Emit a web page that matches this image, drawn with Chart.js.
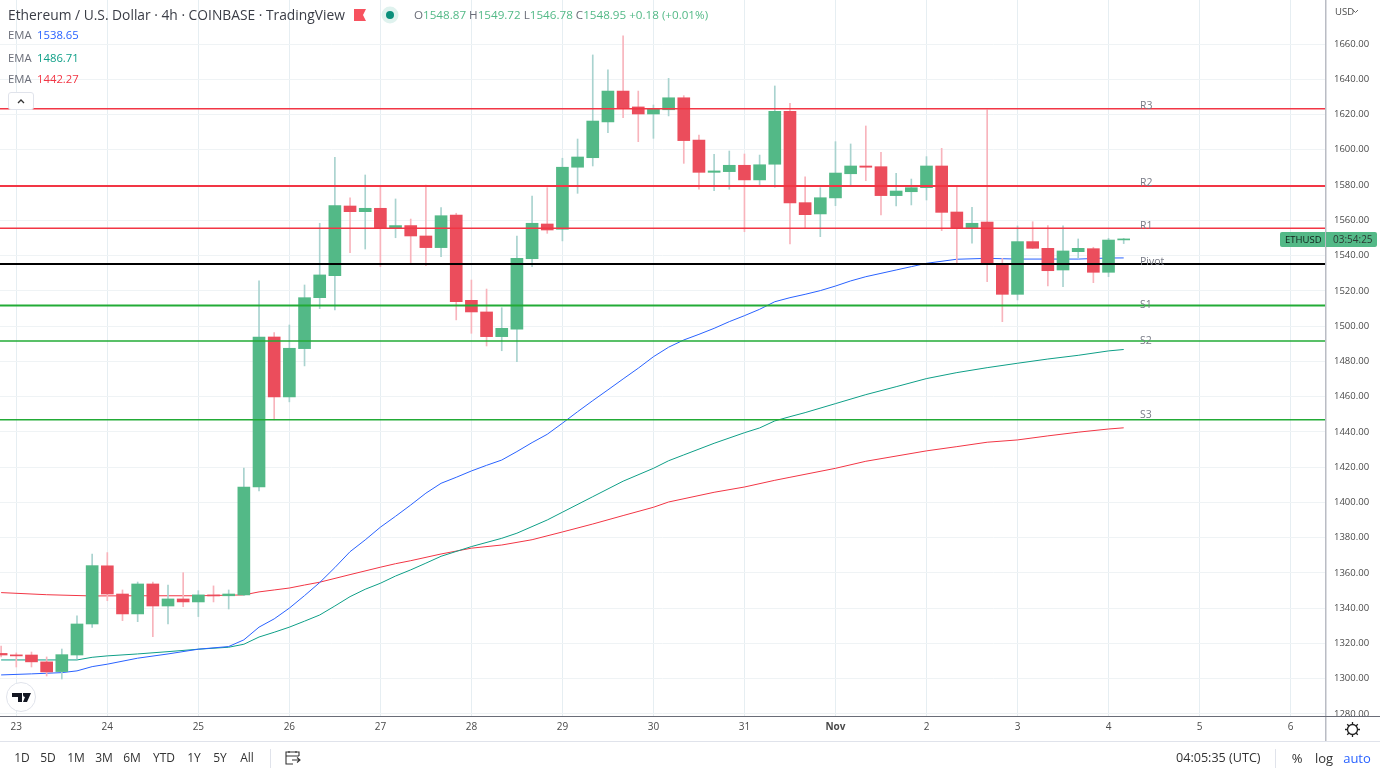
<!DOCTYPE html>
<html>
<head>
<meta charset="utf-8">
<title>ETHUSD 4h</title>
<script src="https://cdn.jsdelivr.net/npm/chart.js@4"></script>
<style>
    html, body { margin: 0; padding: 0; background: #fff; overflow: hidden; }
    body { width: 1380px; height: 776px; position: relative; font-family: "Open Sans", sans-serif; color: #333; }
    canvas { position: absolute; left: 0; top: 0; }
    .txt { position: absolute; white-space: nowrap; line-height: 16px; font-size: 11.3px; }
    .lab { color: #6a6d78; }
    .grn { color: #53b987; }
    .btm { top: 750px; color: #333; font-size: 12px; transform: translateX(-50%); }
    svg { position: absolute; }
    #bar { position: absolute; left: 0; top: 741px; width: 1380px; height: 35px; border-top: 1px solid #e0e3eb; box-sizing: border-box; }
</style>
</head>
<body>
<canvas id="chart" width="1380" height="741"></canvas>
<div id="bar"></div>

<div class="txt" style="left:8px;top:7px;font-size:13.8px;color:#3a3d46" id="title"></div>
<svg style="left:354px;top:9px" width="13" height="12"><path d="M0 0H12L9 6L12 12H0Z" fill="#f7525f"/></svg>
<svg style="left:381px;top:6px" width="18" height="18"><circle cx="9" cy="9" r="8.5" fill="#dff2ee"/><circle cx="9" cy="9" r="4" fill="#0a8f7b"/></svg>
<div class="txt" style="left:414px;top:7px;font-size:11.65px" id="ohlc"></div>

<div class="txt lab" style="left:8px;top:27px">EMA</div>
<div class="txt lab" style="left:8px;top:50px">EMA</div>
<div class="txt lab" style="left:8px;top:71px">EMA</div>
<div class="txt" style="left:37px;top:27px;color:#2962ff" id="ema1"></div>
<div class="txt" style="left:37px;top:50px;color:#0e9f87" id="ema2"></div>
<div class="txt" style="left:37px;top:71px;color:#f23645" id="ema3"></div>
<div style="position:absolute;left:8px;top:92px;width:26px;height:18px;box-sizing:border-box;border:1px solid #e0e3eb;border-radius:3px;background:#fff"></div>
<svg style="left:17px;top:98px" width="8" height="6"><path d="M1 5L4 2L7 5" stroke="#333" stroke-width="1.3" fill="none"/></svg>

<svg style="left:6px;top:682px" width="30" height="30"><circle cx="15" cy="15" r="14.5" fill="#fff" stroke="#e0e3eb"/><path d="M6 11H16V20H12V15H6ZM17 11H25L21 20H17L19 15A2 2 0 0 1 17 13Z" fill="#131722"/></svg>

<div class="txt" style="left:1335px;top:4px;font-size:9.5px;color:#4a4a4a">USD</div>
<svg style="left:1352px;top:9px" width="7" height="5"><path d="M1 1L3.5 3.5L6 1" stroke="#666" fill="none"/></svg>

<div style="position:absolute;left:1280px;top:232px;width:45px;height:15px;background:#53b987;border-radius:2px 0 0 2px"></div>
<div class="txt" style="left:1285px;top:232px;font-size:9.5px;line-height:15px;color:#10201a">ETHUSD</div>
<div style="position:absolute;left:1326px;top:232px;width:51px;height:15px;background:#53b987;border-radius:0 2px 2px 0"></div>
<div class="txt" style="left:1333px;top:232px;font-size:10px;line-height:15px;color:#2b3a34">03:54:25</div>
<svg style="left:1344px;top:721px" width="17" height="17"><circle cx="8.5" cy="8.5" r="5" fill="none" stroke="#222" stroke-width="1.3"/><path d="M8.5 1V3.5M8.5 13.5V16M1 8.5H3.5M13.5 8.5H16M3.2 3.2L5 5M12 12L13.8 13.8M13.8 3.2L12 5M5 12L3.2 13.8" stroke="#222" stroke-width="1.3"/></svg>

<div id="ranges"></div>
<div style="position:absolute;left:270px;top:749px;width:1px;height:19px;background:#e0e3eb"></div>
<svg style="left:284px;top:750px" width="17" height="16"><path d="M15 6V2H2V14H9M2 6H15M5 1V3M12 1V3M8 10H16M13 7.5L16 10L13 12.5" stroke="#333" stroke-width="1.1" fill="none"/></svg>
<div class="txt" style="left:1176px;top:750px;font-size:12.6px;color:#333">04:05:35 (UTC)</div>
<div style="position:absolute;left:1275px;top:749px;width:1px;height:19px;background:#e0e3eb"></div>
<div class="txt btm" style="left:1297px;font-size:13px">%</div>
<div class="txt btm" style="left:1324px;font-size:13px">log</div>
<div class="txt btm" style="left:1357px;font-size:13px;color:#2962ff">auto</div>

<script>
document.addEventListener('DOMContentLoaded', () => {
    // First bar is the clipped one left of the 23rd
    const firstBar = -1;
    const opens = [1314.3,1313.4,1313.4,1309.5,1304,1313.4,1331,1364,1348,1336.7,1353.7,1341.2,1345.2,1343.5,1347.5,1347,1347.5,1408.7,1493.8,1459.8,1487.2,1516.1,1528.6,1568.1,1564.9,1566.8,1555.5,1557,1551.1,1544.5,1563,1514.6,1508,1494,1498.3,1538.2,1557.9,1554.9,1590.1,1595.5,1615.8,1633.3,1624.3,1620.3,1622.7,1629.5,1605.5,1587.2,1587.6,1591.2,1582.9,1591.8,1621.8,1570,1563.6,1572.7,1586.4,1590.8,1590.4,1574,1576.2,1578.5,1590.8,1564.7,1555.6,1559,1535.6,1518,1547.9,1544.1,1531.8,1542.2,1543.9,1530.5,1548.87];
    const highs = [1318.5,1314.6,1315.1,1312.3,1316.8,1335.6,1370.7,1371.5,1350.3,1354.8,1354.8,1353.1,1360.1,1349.9,1352.6,1350.3,1419.5,1525.6,1496.3,1500.6,1523.3,1558.3,1595.7,1572.8,1585.7,1579.1,1572.1,1560.7,1580,1567.2,1564,1526.1,1521,1510.4,1551.1,1573.8,1578.5,1595.2,1606.1,1653.8,1645.3,1664.7,1633.3,1625.4,1640.5,1630.7,1608.4,1597.4,1599.3,1597.6,1597,1636.2,1626.4,1584.7,1578.5,1604.6,1603.3,1613.5,1598.6,1586.7,1583.4,1596.1,1600.8,1579.1,1567.4,1622.6,1538.4,1556.8,1559.2,1557,1556.8,1549.4,1544.7,1549.8,1549.72];
    const lows = [1312.3,1306.6,1306.6,1301.5,1299.8,1311.2,1329,1344.2,1332.9,1332.3,1323.8,1331,1340.8,1335.2,1343.5,1339.5,1347,1406.5,1446.8,1457,1477.4,1509.9,1509.1,1541.6,1543.7,1533.7,1550.1,1535.6,1534.3,1539.4,1503.5,1495.9,1488.7,1486,1479.8,1533.7,1552.6,1548.3,1575.3,1590.8,1609.7,1618.2,1604.6,1606.5,1619.2,1592.3,1577.6,1576.8,1577.6,1553.5,1579.9,1578.7,1546.6,1555.5,1550.7,1568.3,1580,1582.5,1563,1568.1,1568.7,1571.5,1554.1,1536,1547,1525.2,1502.5,1514.8,1544,1522.7,1522.3,1538.6,1524.6,1528,1546.78];
    const closes = [1313.4,1312.9,1309.5,1303.8,1313.6,1331,1364.1,1348,1336.7,1353.7,1341.2,1345.2,1343.5,1347.5,1346.9,1348,1408.7,1493.8,1459.8,1487.4,1516.1,1529,1568.3,1564.9,1566.8,1555.5,1557,1551.1,1544.5,1562.6,1513.8,1508,1494,1498.7,1538.4,1558.3,1554.5,1590.1,1595.9,1616.3,1633.3,1623.5,1620.3,1623.5,1629.5,1605.2,1587.2,1588,1591.2,1582.9,1591.5,1621.8,1569.8,1563.2,1572.8,1586.8,1590.8,1590.1,1574,1576.6,1578.5,1590.8,1564.5,1555.6,1558.3,1535.6,1518,1547.9,1544.1,1531.4,1542.6,1544.1,1530.5,1548.8,1548.95];

    const blueBars = [-1,1,3,4,5,6,8,10,12,14,15,16,17,18,19,20,21,22,23,24,25,26,27,28,29,30,31,32,33,34,35,36,37,38,39,40,41,42,43,44,45,46,47,48,49,50,51,52,53,54,55,56,57,58,59,60,62,64,66,68,70,72,73];
    const blueEma = [1302.1,1302.7,1303.4,1304.4,1306.8,1308.2,1311.6,1314,1316.7,1318.2,1322,1329.2,1333.9,1340,1347.1,1354.5,1363,1372,1378.7,1385.9,1392.1,1398.5,1405.2,1410.8,1414.2,1417.8,1421,1424,1428.8,1433.9,1438.6,1444.9,1451.4,1457.7,1463.8,1470,1476.1,1482.6,1488,1492.1,1495.3,1498.7,1502.5,1505.9,1509.5,1513.8,1516.1,1518,1520.1,1522.7,1525.6,1528,1529.9,1531.8,1533.7,1535.6,1537.9,1538.4,1538,1538,1538,1538.6,1538.65];
    const tealBars = [-1,3,4,5,6,8,10,12,14,15,16,17,18,19,20,21,22,23,24,25,26,27,28,30,32,33,35,36,38,40,42,43,44,46,48,49,50,51,52,54,56,58,60,62,64,66,68,70,72,73];
    const tealEma = [1310.6,1310.6,1310.6,1312.1,1312.9,1314,1315.3,1316.7,1317.8,1319.5,1323.6,1326.3,1329.2,1332.6,1336.1,1341.2,1346.5,1350.7,1354.1,1358.2,1361.7,1365.5,1369.4,1374.9,1379.6,1382.5,1390,1394.4,1403.2,1412,1419.3,1423.6,1426.9,1433.5,1439.5,1442.2,1446.2,1448.6,1450.9,1456,1461.1,1465.6,1470.2,1473.6,1476.4,1478.9,1481.3,1483.4,1485.9,1486.71];
    const redBars = [-1,2,5,8,12,15,16,17,18,19,20,22,24,25,26,28,30,32,34,36,38,40,42,43,46,48,50,51,54,56,60,62,64,66,68,70,72,73];
    const redEma = [1348.8,1347.6,1346.9,1347,1347,1347.5,1349.2,1350.3,1351.4,1353.1,1354.7,1359,1363.2,1365.2,1366.9,1370.7,1374,1375.8,1378.8,1383.2,1387.7,1392.5,1397.2,1400.2,1405.7,1408.7,1412.5,1414.2,1419.3,1423.3,1429.2,1431.6,1434.1,1435.4,1437.7,1439.8,1441.6,1442.27];

    const levelNames = ['R3', 'R2', 'R1', 'Pivot', 'S1', 'S2', 'S3'];
    const levelValues = [1623.3, 1579.5, 1555.5, 1535.2, 1511.6, 1491.5, 1446.8];
    const levelColors = ['#f23645', '#f23645', '#f23645', '#000000', '#22ab36', '#22ab36', '#22ab36'];
    const levelWidths = [1.5, 2, 1.5, 2, 2, 1.5, 1.5];
    const labelShifts = [0, 0, 1, 1, 2, 3, -2];

    const priceTicks = [1280,1300,1320,1340,1360,1380,1400,1420,1440,1460,1480,1500,1520,1540,1560,1580,1600,1620,1640,1660];
    const dayBars = [0,6,12,18,24,30,36,42,48,54,60,66,72,78,84];
    const dayLabels = ['23','24','25','26','27','28','29','30','31','Nov','2','3','4','5','6'];
    const rangeNames = ['1D','5D','1M','3M','6M','YTD','1Y','5Y','All'];
    const rangeCenters = [22,48,76,104,132,164,194,220,247];

    const upColor = '#53b987';
    const downColor = '#eb4d5c';
    const upWick = '#a9d3cf';
    const downWick = '#f8b4bc';

    const fontFamily = '"Open Sans", sans-serif';

    // Header and toolbar text
    document.getElementById('title').textContent = 'Ethereum / U.S. Dollar · 4h · COINBASE · TradingView';
    const last = opens.length - 1;
    const ohlcText = (name, v) => `<span class="lab">${name}</span><span class="grn">${v.toFixed(2)}</span>`;
    document.getElementById('ohlc').innerHTML =
        ohlcText('O', opens[last]) + ' ' + ohlcText('H', highs[last]) + ' ' +
        ohlcText('L', lows[last]) + ' ' + ohlcText('C', closes[last]) +
        ' <span class="grn">+0.18 (+0.01%)</span>';
    document.getElementById('ema1').textContent = blueEma[blueEma.length - 1].toFixed(2);
    document.getElementById('ema2').textContent = tealEma[tealEma.length - 1].toFixed(2);
    document.getElementById('ema3').textContent = redEma[redEma.length - 1].toFixed(2);
    document.getElementById('ranges').innerHTML = rangeNames.map((name, i) =>
        `<div class="txt btm" style="left:${rangeCenters[i]}px">${name}</div>`).join('');

    const pairs = (xs, ys) => xs.map((x, i) => ({ x: x, y: ys[i] }));
    const xMin = -1.075;
    const xMax = 86.27;
    const isUp = i => closes[i] >= opens[i];

    const emaDataset = (xs, ys, color) => ({
        type: 'line',
        data: pairs(xs, ys),
        borderColor: color,
        borderWidth: 1,
        pointRadius: 0,
        tension: 0,
        order: 4
    });

    const datasets = [
        emaDataset(blueBars, blueEma, '#2962ff'),
        emaDataset(tealBars, tealEma, '#0e9f87'),
        emaDataset(redBars, redEma, '#f23645'),
        {
            // wicks
            type: 'bar',
            data: lows.map((l, i) => ({ x: firstBar + i, y: [l, highs[i]] })),
            backgroundColor: lows.map((l, i) => isUp(i) ? upWick : downWick),
            barThickness: 1,
            borderWidth: 0,
            order: 3
        },
        {
            // bodies
            type: 'bar',
            data: opens.map((o, i) => ({ x: firstBar + i, y: [o, closes[i]] })),
            backgroundColor: opens.map((o, i) => isUp(i) ? upColor : downColor),
            barThickness: 12,
            minBarLength: 1,
            borderWidth: 0,
            order: 2
        }
    ];
    levelValues.forEach((v, i) => {
        datasets.push({
            type: 'line',
            data: [{ x: xMin, y: v }, { x: xMax, y: v }],
            borderColor: levelColors[i],
            borderWidth: levelWidths[i],
            pointRadius: 0,
            order: 1
        });
    });

    // Pivot names sit on their lines, axis frame goes over the pane edges
    const framePlugin = {
        id: 'frame',
        afterDatasetsDraw(chart) {
            const ctx = chart.ctx;
            const px = chart.scales.x.getPixelForValue(74.07);
            ctx.save();
            ctx.font = '10.5px ' + fontFamily;
            ctx.fillStyle = '#787b86';
            ctx.textAlign = 'left';
            ctx.textBaseline = 'alphabetic';
            levelNames.forEach((name, i) => {
                ctx.fillText(name, px, chart.scales.y.getPixelForValue(levelValues[i]) + labelShifts[i]);
            });
            ctx.restore();
        },
        afterDraw(chart) {
            const ctx = chart.ctx;
            ctx.save();
            ctx.fillStyle = '#fff';
            ctx.fillRect(1326, 717, 54, 24);
            ctx.fillStyle = '#b9bcc4';
            ctx.fillRect(1325, 0, 1.5, 741);
            ctx.fillStyle = '#6a6d78';
            ctx.fillRect(0, 716, 1380, 1);
            ctx.restore();
        }
    };

    new Chart(document.getElementById('chart'), {
        type: 'bar',
        data: { datasets: datasets },
        plugins: [framePlugin],
        options: {
            responsive: false,
            animation: false,
            events: [],
            datasets: { bar: { grouped: false } },
            layout: { padding: 0 },
            plugins: { legend: { display: false }, tooltip: { enabled: false } },
            scales: {
                x: {
                    type: 'linear',
                    min: xMin,
                    max: xMax,
                    offset: false,
                    afterBuildTicks: axis => { axis.ticks = dayBars.map(v => ({ value: v })); },
                    afterFit: axis => { axis.height = 25; axis.paddingLeft = 0; axis.paddingRight = 0; },
                    grid: { color: '#e6eef2', offset: false, drawTicks: false },
                    border: { display: false },
                    ticks: {
                        autoSkip: false,
                        maxRotation: 0,
                        padding: 5,
                        color: '#4a4a4a',
                        font: ctx => ({ family: fontFamily, size: 10, weight: dayLabels[ctx.index] === 'Nov' ? 'bold' : 'normal' }),
                        callback: (value, i) => dayLabels[i]
                    }
                },
                y: {
                    position: 'right',
                    min: 1278.8,
                    max: 1684.96,
                    afterBuildTicks: axis => { axis.ticks = priceTicks.map(v => ({ value: v })); },
                    afterFit: axis => { axis.width = 55; axis.paddingTop = 0; axis.paddingBottom = 0; },
                    grid: { color: '#eff3f5', drawTicks: false },
                    border: { display: false },
                    ticks: {
                        padding: 9,
                        color: '#4a4a4a',
                        font: { family: fontFamily, size: 9.5 },
                        callback: value => value.toFixed(2)
                    }
                }
            }
        }
    });
});
</script>
</body>
</html>
